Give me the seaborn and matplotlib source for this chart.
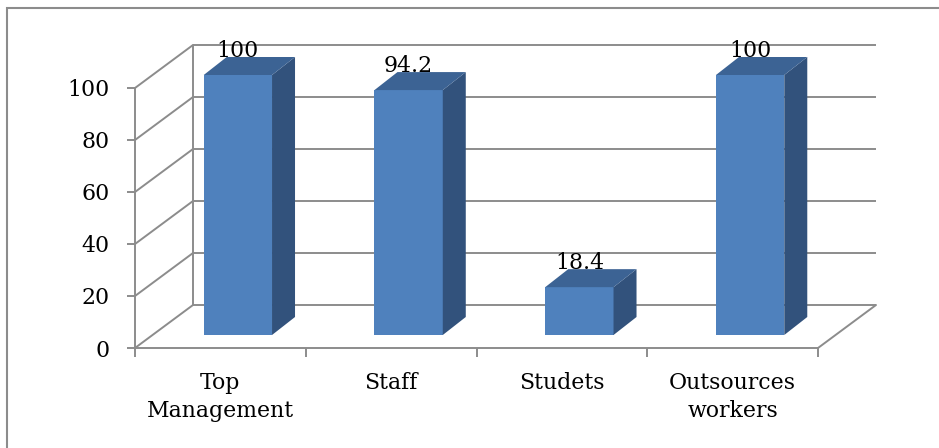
import matplotlib
matplotlib.use("Agg")
import matplotlib.pyplot as plt
import matplotlib.transforms as mtransforms
from matplotlib.patches import Polygon, Rectangle
import seaborn as sns

# Chart data
categories = ["Top\nManagement", "Staff", "Studets", "Outsources\nworkers"]
values = [100, 94.2, 18.4, 100]
value_labels = ["100", "94.2", "18.4", "100"]
y_ticks = [0, 20, 40, 60, 80, 100]

# Colours
FRONT = "#4F81BD"
TOP = "#3C6394"
SIDE = "#32527C"
GRID = "#8C8C8C"

sns.set_style("white")
plt.rcParams["font.family"] = ["DejaVu Serif"]
FS = 15.8

W, H, DPI = 939, 448, 100
fig = plt.figure(figsize=(W / DPI, H / DPI), dpi=DPI, facecolor="white")
# axes covers the front plane of the 3-D box
ax = fig.add_axes([135 / W, 100 / H, 683 / W, 260 / H])
ax.set_facecolor("none")

sns.barplot(x=categories, y=values, width=0.4, color=FRONT, saturation=1,
            ax=ax, linewidth=0, zorder=3)
ax.set_xlim(-0.5, 3.5)
ax.set_ylim(0, 100)

# pixel size of one data unit
p0, p1 = ax.transData.transform([(0, 0), (1, 1)])
sx, sy = p1[0] - p0[0], p1[1] - p0[1]

# perspective offsets (pixels)
WALL_DX, WALL_DY = 58, 43      # front plane -> back wall
BAR_DX, BAR_DY = 17.5, 13      # front plane -> bar front faces
DEPTH_DX, DEPTH_DY = 23, 18    # bar depth

wall_tr = mtransforms.offset_copy(ax.transData, fig=fig, x=WALL_DX, y=WALL_DY, units="dots")
bar_tr = mtransforms.offset_copy(ax.transData, fig=fig, x=BAR_DX, y=BAR_DY, units="dots")

LW = 1.4
x_lo, x_hi = ax.get_xlim()
# side wall diagonals and back wall gridlines
for v in y_ticks:
    ax.plot([x_lo, x_lo + WALL_DX / sx], [v, v + WALL_DY / sy], color=GRID, lw=LW,
            clip_on=False, zorder=1, solid_capstyle="butt")
    ax.plot([x_lo, x_hi], [v, v], color=GRID, lw=LW, transform=wall_tr,
            clip_on=False, zorder=1, solid_capstyle="butt")
ax.plot([x_lo, x_lo], [0, 100], color=GRID, lw=LW, transform=wall_tr, clip_on=False, zorder=1)
# floor right edge
ax.plot([x_hi, x_hi + WALL_DX / sx], [0, WALL_DY / sy], color=GRID, lw=LW,
        clip_on=False, zorder=1)

# bars: shift front faces back, add side and top faces, value labels
ddx, ddy = DEPTH_DX / sx, DEPTH_DY / sy
for bar, lab in zip(list(ax.patches), value_labels):
    bar.set_transform(bar_tr)
    bar.set_clip_on(False)
    x0, w, h = bar.get_x(), bar.get_width(), bar.get_height()
    side = [(x0 + w, 0), (x0 + w + ddx, ddy), (x0 + w + ddx, h + ddy), (x0 + w, h)]
    top = [(x0, h), (x0 + ddx, h + ddy), (x0 + w + ddx, h + ddy), (x0 + w, h)]
    ax.add_patch(Polygon(side, closed=True, facecolor=SIDE, lw=0, transform=bar_tr,
                         clip_on=False, zorder=3))
    ax.add_patch(Polygon(top, closed=True, facecolor=TOP, lw=0, transform=bar_tr,
                         clip_on=False, zorder=3))
    ax.text(x0 + w / 2, h + ddy, lab, transform=bar_tr, ha="center", va="baseline",
            fontsize=FS, color="black", zorder=4, clip_on=False)

# spines and ticks
for s in ["top", "right"]:
    ax.spines[s].set_visible(False)
for s in ["left", "bottom"]:
    ax.spines[s].set_color(GRID)
    ax.spines[s].set_linewidth(LW)
    ax.spines[s].set_zorder(2)

ax.set_yticks(y_ticks)
ax.set_yticklabels([str(t) for t in y_ticks])
ax.tick_params(axis="y", which="major", left=True, direction="out", length=5.8, width=LW,
               color=GRID, pad=12.5, labelsize=FS, labelcolor="black")

ax.set_xticks([-0.5, 0.5, 1.5, 2.5, 3.5])
ax.set_xticklabels([])
ax.set_xticks(range(len(categories)), minor=True)
ax.set_xticklabels(categories, minor=True, linespacing=1.35)
ax.tick_params(axis="x", which="major", bottom=True, direction="out", length=6.5,
               width=LW, color=GRID)
ax.tick_params(axis="x", which="minor", bottom=True, length=0, pad=17, labelsize=FS,
               labelcolor="black")
ax.set_xlabel("")
ax.set_ylabel("")

# chart border
fig.add_artist(Rectangle((7 / W, -0.2), 1.5, 1 - 8 / H + 0.2, transform=fig.transFigure,
                         fill=False, edgecolor=GRID, lw=1.5))

fig.savefig("out.png", dpi=DPI, facecolor="white")
